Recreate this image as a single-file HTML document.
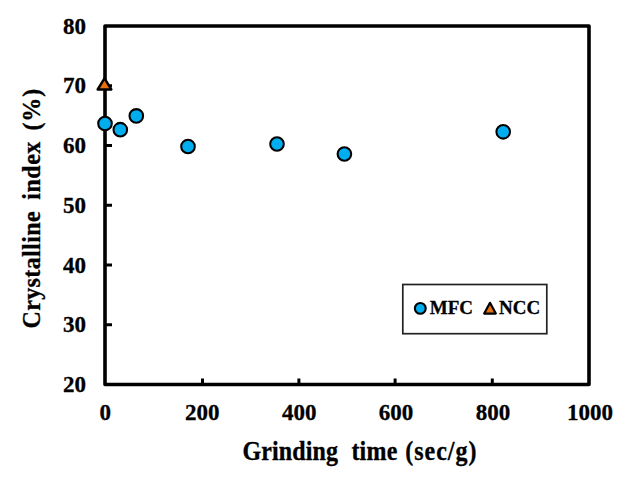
<!DOCTYPE html>
<html><head><meta charset="utf-8"><style>
html,body{margin:0;padding:0;background:#fff;width:625px;height:483px;overflow:hidden}
svg{display:block}
text{white-space:pre;font-family:"Liberation Serif",serif;font-weight:bold;fill:#000;stroke:#000;stroke-width:0.3px}
</style></head><body>
<svg width="625" height="483" viewBox="0 0 625 483">
<g stroke="#000" stroke-width="3">
<line x1="105" y1="85.75" x2="112" y2="85.75"/>
<line x1="105" y1="145.50" x2="112" y2="145.50"/>
<line x1="105" y1="205.25" x2="112" y2="205.25"/>
<line x1="105" y1="265.00" x2="112" y2="265.00"/>
<line x1="105" y1="324.75" x2="112" y2="324.75"/>
<line x1="202.50" y1="384" x2="202.50" y2="378.5"/>
<line x1="298.90" y1="384" x2="298.90" y2="378.5"/>
<line x1="395.10" y1="384" x2="395.10" y2="378.5"/>
<line x1="492.30" y1="384" x2="492.30" y2="378.5"/>
</g>
<rect x="105" y="26" width="484" height="358.5" fill="none" stroke="#000" stroke-width="3.6" stroke-linejoin="round"/>
<g font-size="23" text-anchor="end">
<text x="86" y="33.60">80</text>
<text x="86" y="93.35">70</text>
<text x="86" y="153.10">60</text>
<text x="86" y="212.85">50</text>
<text x="86" y="272.60">40</text>
<text x="86" y="332.35">30</text>
<text x="86" y="392.10">20</text>
</g>
<g font-size="23" text-anchor="middle">
<text x="105.30" y="419.5">0</text>
<text x="202.22" y="419.5">200</text>
<text x="299.14" y="419.5">400</text>
<text x="396.06" y="419.5">600</text>
<text x="492.98" y="419.5">800</text>
<text x="589.90" y="419.5">1000</text>
</g>
<text x="0" y="0" font-size="24" letter-spacing="0.13" transform="translate(242.5,459.6) scale(1,1.1)">Grinding</text>
<text x="0" y="0" font-size="24" letter-spacing="0.2" transform="translate(351.4,459.6) scale(1,1.1)">time</text>
<text x="0" y="0" font-size="24" letter-spacing="1.0" transform="translate(405.2,459.6) scale(1,1.1)">(sec/g)</text>
<text x="0" y="0" font-size="24" letter-spacing="0.38" transform="translate(40.3,328.5) rotate(-90) scale(1,1.04)">Crystalline</text>
<text x="0" y="0" font-size="24" letter-spacing="0.5" transform="translate(40.3,199.7) rotate(-90) scale(1,1.04)">index</text>
<text x="0" y="0" font-size="24" letter-spacing="0.95" transform="translate(40.3,130.6) rotate(-90) scale(1,1.04)">(%)</text>
<polygon points="104.5,78.3 111.3,89.4 97.7,89.4" fill="#E8700C" stroke="#000" stroke-width="2.5" stroke-linejoin="round"/>
<g fill="#00AEEF" stroke="#000" stroke-width="2.05">
<circle cx="105" cy="123.5" r="6.8"/>
<circle cx="120.3" cy="129.7" r="6.8"/>
<circle cx="136.3" cy="115.9" r="6.8"/>
<circle cx="188" cy="146.5" r="6.8"/>
<circle cx="277" cy="144" r="6.8"/>
<circle cx="344.4" cy="154" r="6.8"/>
<circle cx="503.2" cy="131.8" r="6.8"/>
</g>
<rect x="402.8" y="284.5" width="144" height="49.2" fill="#fff" stroke="#222" stroke-width="1.7"/>
<circle cx="420.3" cy="308.4" r="5.4" fill="#00AEEF" stroke="#000" stroke-width="2.1"/>
<text x="429.8" y="314" font-size="19">MFC</text>
<polygon points="490,302.8 495.8,313.6 484.2,313.6" fill="#E8700C" stroke="#000" stroke-width="2.2" stroke-linejoin="round"/>
<text x="499" y="314" font-size="19">NCC</text>
</svg>
</body></html>
